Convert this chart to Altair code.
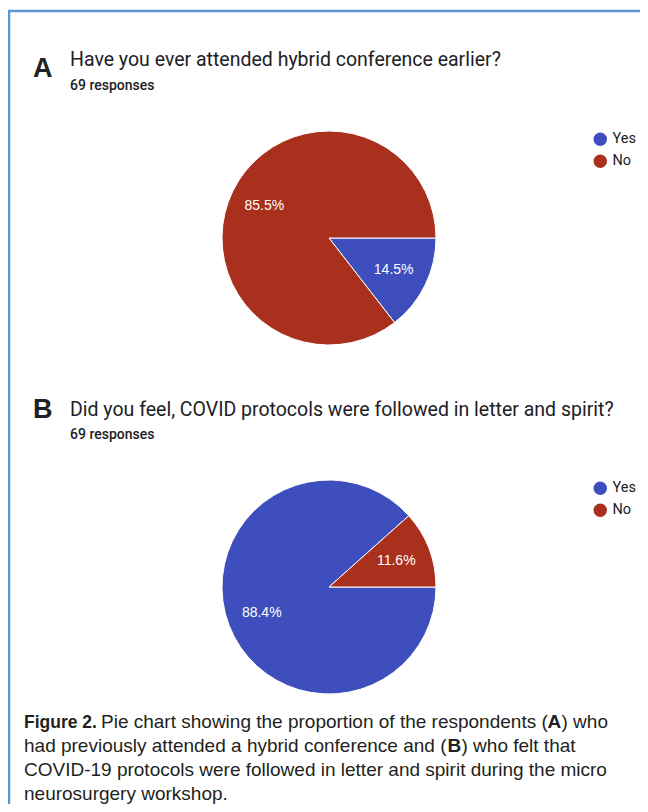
import math
import altair as alt
import pandas as pd

# ---------------- data ----------------
answers = ["Yes", "No"]
order_idx = [0, 1]
pct_a = [14.5, 85.5]
pct_b = [88.4, 11.6]
labels_a = ["14.5%", "85.5%"]
labels_b = ["88.4%", "11.6%"]
colors = ["#3e4fbd", "#a9301d"]

letter_a = "A"
letter_b = "B"
question_a = "Have you ever attended hybrid conference earlier?"
question_b = "Did you feel, COVID protocols were followed in letter and spirit?"
responses_a = "69 responses"
responses_b = "69 responses"

cap_bold = "Figure 2."
cap_l1a = "Pie chart showing the proportion of the respondents ("
cap_l1b = "A"
cap_l1c = ") who"
cap_l2a = "had previously attended a hybrid conference and ("
cap_l2b = "B"
cap_l2c = ") who felt that"
cap_l3 = "COVID-19 protocols were followed in letter and spirit during the micro"
cap_l4 = "neurosurgery workshop."

W, H = 632, 796
CAP_FONT = "Liberation Sans"
UI_FONT = "Roboto"
TXT = "#202124"
CAP_COL = "#231f20"
CS = 19


def text_item(s, x, y, size, weight="normal", font=UI_FONT, color=TXT, align="left"):
    return alt.Chart(pd.DataFrame({"t": [s]})).mark_text(
        font=font, fontSize=size, fontWeight=weight, color=color,
        align=align, baseline="alphabetic"
    ).encode(x=alt.value(x), y=alt.value(y), text="t:N")


def pie(pcts, labels, cx, cy, legend_y):
    df = pd.DataFrame({"answer": answers, "pct": pcts, "label": labels, "ord": order_idx})
    theta = alt.Theta("pct:Q", stack=True,
                      scale=alt.Scale(domain=[0, 100], range=[math.pi / 2, math.pi / 2 + 2 * math.pi]))
    base = alt.Chart(df).encode(
        theta=theta,
        order=alt.Order("ord:Q"),
        x=alt.value(cx), y=alt.value(cy),
    )
    arcs = base.mark_arc(outerRadius=107, stroke="white", strokeWidth=1).encode(
        color=alt.Color("answer:N",
                        scale=alt.Scale(domain=answers, range=colors),
                        legend=alt.Legend(orient="none", legendX=585, legendY=legend_y,
                                          title=None, symbolType="circle", symbolSize=180,
                                          symbolStrokeWidth=0, labelFont=UI_FONT,
                                          labelFontSize=14.5, labelColor=TXT,
                                          rowPadding=7, labelOffset=5, padding=0))
    )
    labels_layer = base.mark_text(
        radius=72, font="Liberation Sans", fontSize=14, color="white"
    ).encode(text="label:N", detail="answer:N")
    return alt.layer(arcs, labels_layer)


pie_a = pie(pct_a, labels_a, 321, 230, 124)
pie_b = pie(pct_b, labels_b, 321, 579, 473)

frame_df = pd.DataFrame({"k": [0]})
top_border = alt.Chart(frame_df).mark_rule(color="#5b97d5", strokeWidth=2.5).encode(
    x=alt.value(0), x2=alt.value(W), y=alt.value(3))
left_border = alt.Chart(frame_df).mark_rule(color="#5b97d5", strokeWidth=2.5).encode(
    x=alt.value(1), y=alt.value(3), y2=alt.value(H))

texts = [
    text_item(letter_a, 25, 69, 27, "bold", "Liberation Sans"),
    text_item(question_a, 62, 58, 19.5),
    text_item(responses_a, 62, 82, 14, 500),
    text_item(letter_b, 25, 410, 27, "bold", "Liberation Sans"),
    text_item(question_b, 62, 408, 19.5),
    text_item(responses_b, 62, 431, 14, 500),
    text_item(cap_bold, 16, 720, 17.5, "bold", CAP_FONT, CAP_COL),
    text_item(cap_l1a, 93, 720, CS, "normal", CAP_FONT, CAP_COL),
    text_item(cap_l1b, 539.5, 720, CS, "bold", CAP_FONT, CAP_COL),
    text_item(cap_l1c, 553.5, 720, CS, "normal", CAP_FONT, CAP_COL),
    text_item(cap_l2a, 16, 744, CS, "normal", CAP_FONT, CAP_COL),
    text_item(cap_l2b, 439.5, 744, CS, "bold", CAP_FONT, CAP_COL),
    text_item(cap_l2c, 453.5, 744, CS, "normal", CAP_FONT, CAP_COL),
    text_item(cap_l3, 16, 768, CS, "normal", CAP_FONT, CAP_COL),
    text_item(cap_l4, 16, 792, CS, "normal", CAP_FONT, CAP_COL),
]

chart = alt.layer(top_border, left_border, pie_a, pie_b, *texts).resolve_scale(
    color="independent"
).properties(
    width=W, height=H, padding=0, autosize=alt.AutoSizeParams(type="none")
).configure_view(stroke=None)

chart.save("out.html", embed_options={"renderer": "svg", "actions": False})
